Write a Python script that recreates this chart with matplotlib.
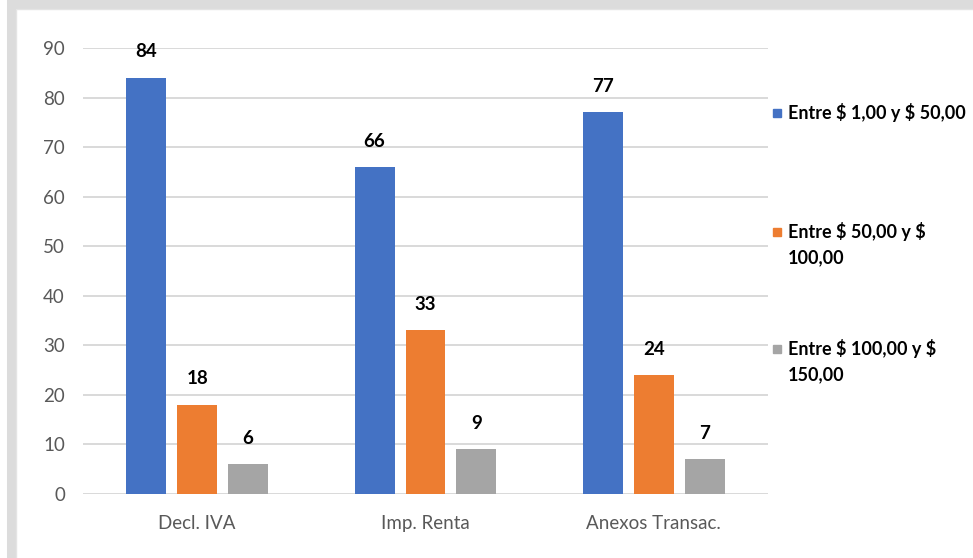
import matplotlib
matplotlib.use("Agg")
import matplotlib.pyplot as plt
from matplotlib.patches import Rectangle
import numpy as np

plt.rcParams['font.family'] = ['Lato', 'DejaVu Sans']

categories = ["Decl. IVA", "Imp. Renta", "Anexos Transac."]
series_names = ["Entre \\$ 1,00 y \\$ 50,00", "Entre \\$ 50,00 y \\$\n100,00", "Entre \\$ 100,00 y \\$\n150,00"]
serie_1_50 = [84, 66, 77]
serie_50_100 = [18, 33, 24]
serie_100_150 = [6, 9, 7]
colors = ["#4472C4", "#ED7D31", "#A5A5A5"]
yticks = [0, 10, 20, 30, 40, 50, 60, 70, 80, 90]

fig = plt.figure(figsize=(9.73, 5.58), dpi=100)
ax = fig.add_axes([0.0853, 0.1147, 0.7040, 0.7993])

x = np.arange(len(categories))
width = 0.175
offsets = [-0.223, 0.0, 0.223]
all_series = [serie_1_50, serie_50_100, serie_100_150]

for vals, off, col in zip(all_series, offsets, colors):
    bars = ax.bar(x + off, vals, width, color=col, zorder=3)
    for b, v in zip(bars, vals):
        ax.annotate(str(v), (b.get_x() + b.get_width() / 2, v),
                    xytext=(0, 12.5), textcoords="offset points",
                    ha="center", va="bottom", fontsize=13.5,
                    fontweight="bold", color="black")

ax.set_xlim(-0.5, 2.5)
ax.set_ylim(0, 90)
ax.set_yticks(yticks)
ax.set_xticks(x)
ax.set_xticklabels(categories)
ax.tick_params(axis="both", length=0, labelsize=13.5, colors="#595959")
ax.tick_params(axis="y", pad=13)
ax.tick_params(axis="x", pad=15)
ax.grid(axis="y", color="#d9d9d9", linewidth=1.4, zorder=0)
for s in ax.spines.values():
    s.set_visible(False)

# legend drawn by hand to mimic spacing (first-line centres, in pixels)
leg_px = [113, 232, 349]
line_px = 26
for name, col, ypx in zip(series_names, colors, leg_px):
    yy = 1 - ypx / 558
    fig.patches.append(Rectangle((0.7945, yy - 0.0074), 0.0085, 0.0148,
                                 transform=fig.transFigure, color=col))
    for i, line in enumerate(name.split("\n")):
        fig.text(0.810, 1 - (ypx + i * line_px) / 558, line, fontsize=13,
                 fontweight="bold", color="black", va="center",
                 transform=fig.transFigure)

# outer frame
fig.patches.append(Rectangle((0.0113, -0.2), 1.2, 1.1935, transform=fig.transFigure,
                             fill=False, edgecolor="#dcdcdc", linewidth=6.5))
fig.patches.append(Rectangle((0.0165, -0.2), 1.2, 1.1845, transform=fig.transFigure,
                             fill=False, edgecolor="#e4e4e4", linewidth=1.0))

fig.savefig("out.png", dpi=100)
